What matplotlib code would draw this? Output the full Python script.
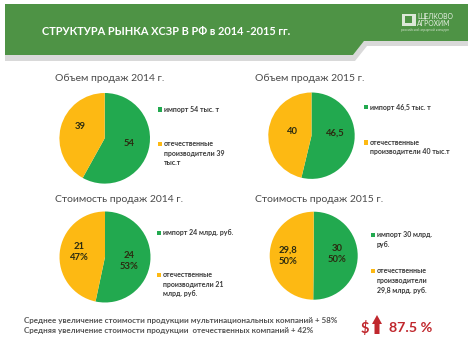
import matplotlib
matplotlib.use("Agg")
import matplotlib.pyplot as plt
from matplotlib.patches import Polygon, Rectangle

plt.rcParams['font.family'] = ['Lato', 'DejaVu Sans']

W, H = 474, 353
GREEN = '#22A94F'
YELLOW = '#FDB913'
HEADER = '#4E9345'
TXT = '#3A3A3A'

title = 'СТРУКТУРА РЫНКА ХСЗР В РФ в 2014 -2015 гг.'
pie_titles = ['Объем продаж 2014 г.', 'Объем продаж 2015 г.',
              'Стоимость продаж 2014 г.', 'Стоимость продаж 2015 г.']
import_values = [54, 46.5, 24, 30]
domestic_values = [39, 40, 21, 29.8]
import_labels = ['54', '46,5', '24\n53%', '30\n50%']
domestic_labels = ['39', '40', '21\n47%', '29,8\n50%']
import_legend = ['импорт 54 тыс. т', 'импорт 46,5 тыс. т',
                 'импорт 24 млрд. руб.', 'импорт 30 млрд.\nруб.']
domestic_legend = ['отечественные\nпроизводители 39\nтыс.т',
                   'отечественные\nпроизводители 40 тыс.т',
                   'отечественные\nпроизводители 21\nмлрд. руб.',
                   'отечественные\nпроизводители\n29,8 млрд. руб.']
footer = ['Среднее увеличение стоимости продукции мультинациональных компаний + 58%',
          'Средняя увеличение стоимости продукции  отечественных компаний + 42%']

# layout in pixels: pie centre x, y, radius; title x, y; legend x, y1, y2; label offsets
pies = [
    dict(c=(104.7, 138.3, 45.3), t=(55, 78.5), lx=158, ly=(109.5, 144), ilab=(129.5, 143), dlab=(80.5, 126.5)),
    dict(c=(311.5, 135.7, 43.2), t=(255, 78.5), lx=364, ly=(107, 142.5), ilab=(335.5, 133.5), dlab=(292, 131.5)),
    dict(c=(105, 257, 45.5), t=(55, 200), lx=157, ly=(233, 275), ilab=(129, 261), dlab=(79, 252)),
    dict(c=(313.7, 255.7, 44), t=(255, 200), lx=371, ly=(235, 271), ilab=(337.5, 254), dlab=(288, 256)),
]

fig = plt.figure(figsize=(W / 100, H / 100), dpi=100, facecolor='white')
bg = fig.add_axes([0, 0, 1, 1], zorder=10)
bg.set_xlim(0, W)
bg.set_ylim(H, 0)
bg.axis('off')
bg.patch.set_visible(False)

# header band and its shadow
bg.add_patch(Polygon([(5, 55), (353, 55), (364, 41), (468, 41), (468, 46), (367, 46), (355, 61), (5, 61)],
                     fc='#D9D9D9', ec='none'))
bg.add_patch(Polygon([(5, 4), (468, 4), (468, 41), (364, 41), (353, 55), (5, 55)], fc=HEADER, ec='none'))
bg.text(42, 31.5, title, color='white', fontsize=7.95, fontweight='bold', va='center', ha='left')

# logo
bg.add_patch(Rectangle((402, 13.5), 14, 12, fc='#DCE8D8', ec='none'))
bg.add_patch(Rectangle((405.5, 16), 7, 7, fc=HEADER, ec='none'))
bg.text(417, 16, 'ЩЕЛКОВО', color='#E8F0E4', fontsize=4.9, va='center', ha='left')
bg.text(417, 23.5, 'АГРОХИМ', color='#E8F0E4', fontsize=4.9, va='center', ha='left')
bg.text(401, 30, 'российский аграрный концерн', color='#CFE0CA', fontsize=2.4, va='center', ha='left')

for i, p in enumerate(pies):
    cx, cy, r = p['c']
    ax = fig.add_axes([(cx - r) / W, 1 - (cy + r) / H, 2 * r / W, 2 * r / H], zorder=1)
    ax.pie([import_values[i], domestic_values[i]], colors=[GREEN, YELLOW],
           startangle=90, counterclock=False, radius=1,
           wedgeprops=dict(linewidth=0))
    ax.set_xlim(-1, 1)
    ax.set_ylim(-1, 1)
    bg.text(*p['t'], pie_titles[i], color='#4A4A4A', fontsize=7.5, va='center', ha='left')
    for (x, y), s in ((p['ilab'], import_labels[i]), (p['dlab'], domestic_labels[i])):
        bg.text(x, y, s, color='#2B2B10', fontsize=6.8, fontweight='bold', va='center', ha='center',
                linespacing=1.35, zorder=5)
    lx = p['lx']
    for y, s, col in ((p['ly'][0], import_legend[i], GREEN), (p['ly'][1], domestic_legend[i], YELLOW)):
        bg.add_patch(Rectangle((lx, y - 2.2), 4.5, 4.5, fc=col, ec='none'))
        bg.text(lx + 6, y - 3.6, s, color=TXT, fontsize=5.0, fontweight='bold', va='top', ha='left',
                linespacing=1.42)

# footer
bg.text(24, 320.5, footer[0], color='#555555', fontsize=5.8, fontweight='bold', va='center', ha='left')
bg.text(24, 330.5, footer[1], color='#555555', fontsize=5.8, fontweight='bold', va='center', ha='left')
RED = '#C0272D'
bg.text(365, 328.5, '$', color=RED, fontsize=10.5, fontweight='bold', va='center', ha='center')
bg.add_patch(Polygon([(372, 324), (377, 315), (382, 324), (379.5, 324), (379.5, 334), (374.5, 334), (374.5, 324)],
                     fc=RED, ec='none'))
bg.text(389, 328.5, '87.5 %', color=RED, fontsize=10.3, fontweight='bold', va='center', ha='left')

fig.savefig('out.png', dpi=100)
